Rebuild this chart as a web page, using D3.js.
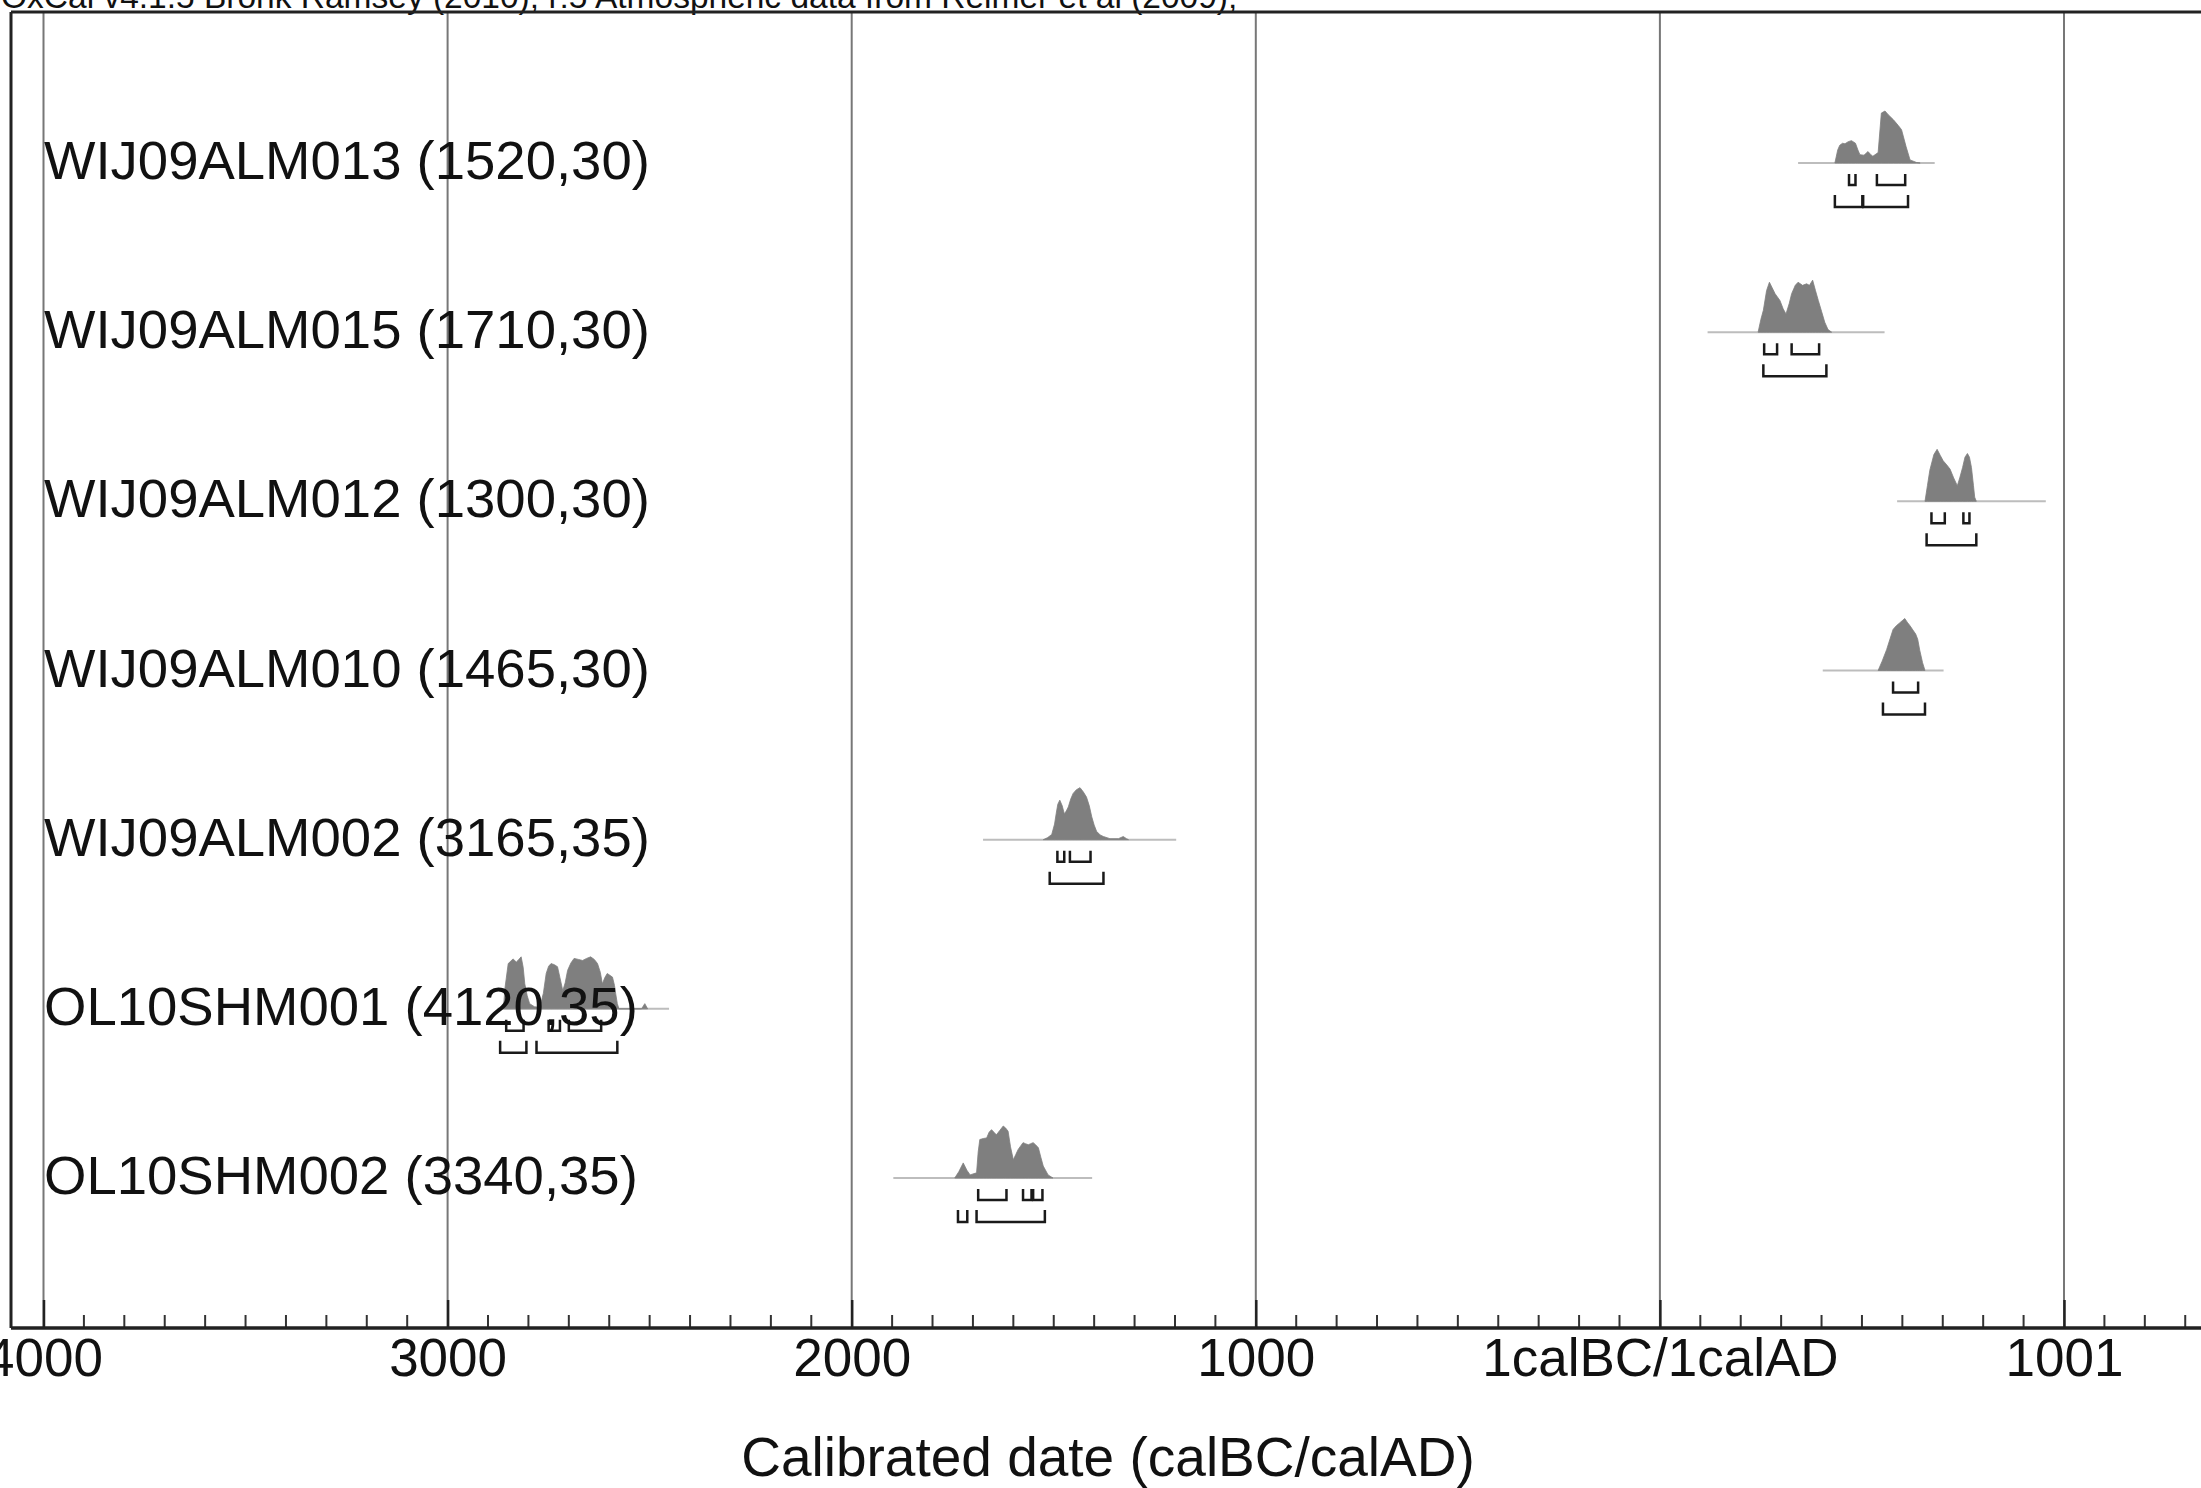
<!DOCTYPE html>
<html>
<head>
<meta charset="utf-8">
<script src="https://cdn.jsdelivr.net/npm/d3@7"></script>
<style>
  body { margin: 0; background: #fff; }
  svg { display: block; font-family: "Liberation Sans", Arial, Helvetica, sans-serif; }
</style>
</head>
<body>
<svg id="chart" width="2201" height="1488"></svg>
<script>
// sample names and the (BP, error) labels, top to bottom
var sampleNames = ["WIJ09ALM013", "WIJ09ALM015", "WIJ09ALM012", "WIJ09ALM010", "WIJ09ALM002", "OL10SHM001", "OL10SHM002"]
var sampleDates = ["(1520,30)", "(1710,30)", "(1300,30)", "(1465,30)", "(3165,35)", "(4120,35)", "(3340,35)"]

// calibrated probability curves: [year (BC < 0), relative probability]
var distALM013 = [[433,0],[440,0.25],[445,0.34],[452,0.38],[458,0.37],[466,0.41],[474,0.43],[484,0.38],[490,0.25],[495,0.16],[505,0.15],[515,0.22],[522,0.16],[527,0.13],[540,0.2],[548,0.96],[557,1.0],[565,0.93],[578,0.83],[590,0.72],[598,0.64],[609,0.32],[619,0.06],[635,0.01],[644,0]]
var distALM015 = [[243,0],[250,0.25],[256,0.42],[264,0.8],[271,0.96],[278,0.85],[285,0.74],[297,0.61],[305,0.45],[312,0.35],[320,0.55],[326,0.74],[335,0.9],[342,0.96],[353,0.9],[363,0.93],[370,0.9],[378,1.0],[385,0.8],[392,0.61],[400,0.4],[408,0.19],[416,0.05],[425,0]]
var distALM012 = [[656,0],[662,0.3],[668,0.6],[678,0.9],[686,1.0],[694,0.88],[701,0.78],[710,0.7],[718,0.62],[727,0.45],[736,0.3],[742,0.45],[749,0.65],[755,0.85],[761,0.92],[766,0.85],[771,0.65],[776,0.3],[779,0.08],[783,0]]
var distALM010 = [[540,0],[550,0.18],[561,0.4],[570,0.62],[577,0.79],[585,0.86],[594,0.92],[600,0.96],[606,1.0],[612,0.93],[619,0.86],[626,0.78],[633,0.7],[638,0.6],[643,0.39],[650,0.15],[656,0]]
var distALM002 = [[-1526,0],[-1515,0.04],[-1505,0.1],[-1498,0.3],[-1494,0.5],[-1490,0.68],[-1485,0.76],[-1479,0.65],[-1474,0.5],[-1469,0.55],[-1464,0.63],[-1458,0.78],[-1452,0.89],[-1444,0.96],[-1435,1.0],[-1427,0.92],[-1419,0.82],[-1412,0.65],[-1406,0.44],[-1400,0.28],[-1394,0.16],[-1385,0.09],[-1377,0.06],[-1361,0.02],[-1340,0.02],[-1328,0.06],[-1320,0.02],[-1315,0]]
var distSHM001 = [[-2862,0],[-2858,0.4],[-2850,0.87],[-2838,0.96],[-2830,0.9],[-2826,0.93],[-2818,1.0],[-2813,0.8],[-2809,0.48],[-2803,0.25],[-2797,0.1],[-2785,0.04],[-2772,0.03],[-2763,0.3],[-2756,0.68],[-2750,0.82],[-2744,0.87],[-2736,0.85],[-2728,0.81],[-2722,0.6],[-2715,0.35],[-2709,0.5],[-2703,0.74],[-2695,0.88],[-2687,0.97],[-2676,0.95],[-2666,0.93],[-2656,0.97],[-2646,1.0],[-2637,0.95],[-2629,0.87],[-2622,0.7],[-2617,0.48],[-2611,0.6],[-2605,0.68],[-2592,0.61],[-2587,0.45],[-2584,0.29],[-2580,0.1],[-2576,0],[-2520,0],[-2512,0.1],[-2505,0]]
var distSHM002 = [[-1745,0],[-1735,0.12],[-1724,0.29],[-1715,0.15],[-1707,0.06],[-1691,0.1],[-1687,0.5],[-1683,0.74],[-1674,0.76],[-1666,0.77],[-1660,0.88],[-1654,0.93],[-1648,0.88],[-1642,0.83],[-1633,0.92],[-1625,1.0],[-1619,0.96],[-1613,0.9],[-1607,0.6],[-1600,0.35],[-1594,0.45],[-1588,0.55],[-1576,0.68],[-1570,0.66],[-1563,0.64],[-1557,0.66],[-1551,0.68],[-1545,0.64],[-1538,0.58],[-1532,0.4],[-1526,0.23],[-1514,0.06],[-1502,0]]
var distributions = [distALM013, distALM015, distALM012, distALM010, distALM002, distSHM001, distSHM002]

// extent of the thin line under each curve
var lineRanges = [[342,680],[118,556],[587,955],[403,702],[-1675,-1197],[-2876,-2452],[-1897,-1405]]

// 68.2% and 95.4% ranges
var ranges68 = [
  [[468,484],[537,607]],
  [[258,290],[326,394]],
  [[672,705],[751,766]],
  [[577,639]],
  [[-1491,-1474],[-1460,-1409]],
  [[-2855,-2812],[-2750,-2722],[-2700,-2620]],
  [[-1687,-1617],[-1576,-1555],[-1551,-1528]]
]
var ranges95 = [
  [[433,501],[503,614]],
  [[256,412]],
  [[660,783]],
  [[552,656]],
  [[-1510,-1377]],
  [[-2870,-2805],[-2780,-2580]],
  [[-1737,-1714],[-1691,-1522]]
]

var tickValues = [-4000, -3000, -2000, -1000, 0, 1000]
var tickLabels = ["4000", "3000", "2000", "1000", "1calBC/1calAD", "1001"]

var headerText = "OxCal v4.1.5 Bronk Ramsey (2010); r:5 Atmospheric data from Reimer et al (2009);"
var axisTitle = "Calibrated date (calBC/calAD)"

var W = 2201, H = 1488
var frameLeft = 11, frameTop = 12, axisY = 1328
var svg = d3.select("#chart")

var x = d3.scaleLinear().domain([-4000, 1000]).range([43.5, 2064])
var y = d3.scalePoint().domain(sampleNames).range([163, 1178])
var h = d3.scaleLinear().domain([0, 1]).range([0, 52])

svg.append("rect").attr("width", W).attr("height", H).attr("fill", "#fff")

// header, mostly cut off at the top
svg.append("text")
  .attr("x", 1)
  .attr("y", 8)
  .attr("font-size", 33.5)
  .attr("fill", "#111")
  .text(headerText)

// vertical grid lines
svg.append("g").selectAll("line").data(tickValues).enter().append("line")
  .attr("x1", function(d) { return x(d) })
  .attr("x2", function(d) { return x(d) })
  .attr("y1", frameTop)
  .attr("y2", axisY)
  .attr("stroke", "#777")
  .attr("stroke-width", 2)

// frame
svg.append("line")
  .attr("x1", frameLeft).attr("x2", W)
  .attr("y1", frameTop).attr("y2", frameTop)
  .attr("stroke", "#222").attr("stroke-width", 3)
svg.append("line")
  .attr("x1", frameLeft).attr("x2", frameLeft)
  .attr("y1", frameTop).attr("y2", axisY)
  .attr("stroke", "#222").attr("stroke-width", 3)

// bottom axis: major ticks labelled, minor ticks every 100 years
var minorTicks = d3.range(-3900, 1400, 100).filter(function(d) { return d % 1000 != 0 })

var axis = d3.axisBottom(x)
  .tickValues(tickValues)
  .tickFormat(function(d, i) { return tickLabels[i] })
  .tickSize(-28)
  .tickPadding(48)

var gAxis = svg.append("g")
  .attr("transform", "translate(0," + axisY + ")")
  .call(axis)
gAxis.select(".domain").remove()
gAxis.selectAll(".tick line").attr("stroke", "#222").attr("stroke-width", 2.5)
gAxis.selectAll(".tick text")
  .attr("font-size", 53)
  .attr("font-family", "Liberation Sans, Arial, sans-serif")
  .attr("fill", "#111")
  .attr("dy", 0)

gAxis.append("g").selectAll("line").data(minorTicks).enter().append("line")
  .attr("x1", function(d) { return x(d) })
  .attr("x2", function(d) { return x(d) })
  .attr("y1", 0)
  .attr("y2", -13)
  .attr("stroke", "#333")
  .attr("stroke-width", 2)

svg.append("line")
  .attr("x1", frameLeft).attr("x2", W)
  .attr("y1", axisY).attr("y2", axisY)
  .attr("stroke", "#222").attr("stroke-width", 3.5)

svg.append("text")
  .attr("x", 1108)
  .attr("y", 1476)
  .attr("text-anchor", "middle")
  .attr("font-size", 55)
  .attr("fill", "#111")
  .text(axisTitle)

// one group per sample
var rows = svg.append("g").selectAll("g.row").data(sampleNames).enter().append("g")
  .attr("class", "row")
  .attr("transform", function(d) { return "translate(0," + y(d) + ")" })

rows.append("line")
  .attr("x1", function(d, i) { return x(lineRanges[i][0]) })
  .attr("x2", function(d, i) { return x(lineRanges[i][1]) })
  .attr("y1", 0).attr("y2", 0)
  .attr("stroke", "#bdbdbd")
  .attr("stroke-width", 2)

var area = d3.area()
  .x(function(d) { return x(d[0]) })
  .y0(0)
  .y1(function(d) { return -h(d[1]) })

rows.append("path")
  .attr("d", function(d, i) { return area(distributions[i]) })
  .attr("fill", "#7f7f7f")
  .attr("stroke", "#7f7f7f")
  .attr("stroke-width", 0.8)

function bracket(r, top, bottom) {
  return "M" + x(r[0]) + "," + top + "V" + bottom + "H" + x(r[1]) + "V" + top
}

rows.each(function(d, i) {
  var g = d3.select(this)
  g.selectAll("path.r68").data(ranges68[i]).enter().append("path")
    .attr("class", "r68")
    .attr("d", function(r) { return bracket(r, 11, 22) })
    .attr("fill", "none")
    .attr("stroke", "#1a1a1a")
    .attr("stroke-width", 2.5)
  g.selectAll("path.r95").data(ranges95[i]).enter().append("path")
    .attr("class", "r95")
    .attr("d", function(r) { return bracket(r, 32, 44) })
    .attr("fill", "none")
    .attr("stroke", "#1a1a1a")
    .attr("stroke-width", 2.5)
})

// labels on top of the curves
rows.append("text")
  .attr("x", 44)
  .attr("y", 16)
  .attr("font-size", 54.5)
  .attr("fill", "#111")
  .text(function(d, i) { return d + " " + sampleDates[i] })
</script>
</body>
</html>
